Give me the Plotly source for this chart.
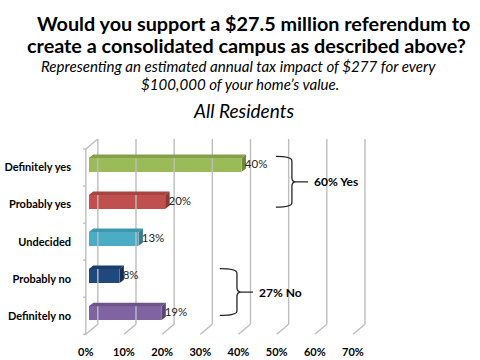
import plotly.graph_objects as go

# ---- data ----
categories = ["Definitely yes", "Probably yes", "Undecided", "Probably no", "Definitely no"]
values = [40, 20, 13, 8, 19]
value_labels = ["40%", "20%", "13%", "8%", "19%"]
front_colors = ["#9BBB59", "#C0504D", "#4BACC6", "#1F497D", "#8064A2"]
top_colors = ["#84A04A", "#A84340", "#3D97AF", "#1A3E6B", "#6D558C"]
side_colors = ["#6E8A3A", "#8E3734", "#317F94", "#142F52", "#5A4674"]
x_ticks = [0, 10, 20, 30, 40, 50, 60, 70]
x_tick_labels = ["0%", "10%", "20%", "30%", "40%", "50%", "60%", "70%"]
groups = [
    {"label": "60% Yes", "cats": ["Definitely yes", "Probably yes"]},
    {"label": "27% No", "cats": ["Probably no", "Definitely no"]},
]

# ---- geometry (layout constants, pixels) ----
W, H = 480, 360
PXX = 3.814     # px per percent
PXY = 37.0      # px per category band
X0PX, Y0PX = 86, 334
PLOT_R_PX, PLOT_T_PX = 370, 128
X_MIN, Y_MIN = -1.0, -0.1

margin_l = X0PX + X_MIN * PXX
margin_b = H - (Y0PX - Y_MIN * PXY)
x_max = (PLOT_R_PX - X0PX) / PXX
y_max = (Y0PX - PLOT_T_PX) / PXY

n = len(categories)
WALL_DX = 12 / PXX      # back wall offset
WALL_DY = 10 / PXY
BAR_X0 = 3 / PXX        # bar depth position
BAR_DDX = 4.5 / PXX     # bar depth
BAR_DDY = 3.5 / PXY
BAR_W = 0.38
BAR_OFF = 0.07

# category centres (top category first)
centres = [n - 1 - i + 0.5 for i in range(n)]
bar_y = [c + BAR_OFF for c in centres]

fig = go.Figure()

# ---- walls and gridlines ----
gx, gy = [], []
for t in x_ticks:
    gx += [t, t + WALL_DX, None]
    gy += [0, WALL_DY, None]
    gx += [t + WALL_DX, t + WALL_DX, None]
    gy += [WALL_DY, n + WALL_DY, None]
gx += [0, 0, None, 0, WALL_DX, None]
gy += [0, n, None, n, n + WALL_DY, None]
for k in range(n + 1):
    gx += [-0.7, 0, None]
    gy += [k, k, None]
fig.add_trace(go.Scatter(x=gx, y=gy, mode="lines",
                         line=dict(color="#BDBDBD", width=1.4),
                         hoverinfo="skip", showlegend=False))

# ---- bars: front faces ----
fig.add_trace(go.Bar(orientation="h", x=values, y=bar_y, base=BAR_X0,
                     width=BAR_W, marker=dict(color=front_colors, line=dict(width=0)),
                     showlegend=False, hoverinfo="skip"))

# ---- bars: top and side faces ----
for v, yc, ct, cs in zip(values, bar_y, top_colors, side_colors):
    yb, yt = yc - BAR_W / 2, yc + BAR_W / 2
    xe = BAR_X0 + v
    fig.add_trace(go.Scatter(
        x=[BAR_X0, xe, xe + BAR_DDX, BAR_X0 + BAR_DDX, BAR_X0],
        y=[yt, yt, yt + BAR_DDY, yt + BAR_DDY, yt],
        fill="toself", fillcolor=ct, mode="lines", line=dict(width=0, color=ct),
        hoverinfo="skip", showlegend=False))
    fig.add_trace(go.Scatter(
        x=[xe, xe + BAR_DDX, xe + BAR_DDX, xe, xe],
        y=[yb, yb + BAR_DDY, yt + BAR_DDY, yt, yb],
        fill="toself", fillcolor=cs, mode="lines", line=dict(width=0, color=cs),
        hoverinfo="skip", showlegend=False))

# ---- value labels ----
fig.add_trace(go.Scatter(
    x=[BAR_X0 + v + BAR_DDX - 0.3 for v in values], y=bar_y, mode="text",
    text=value_labels, textposition="middle right",
    textfont=dict(family="Lato", size=11.5, color="#262626"),
    hoverinfo="skip", showlegend=False, cliponaxis=False))

# ---- braces ----
brace_geo = [
    {"xl": 49.8, "xv": 54.0, "xt": 58.2, "top": 0.30, "bot": 0.07},
    {"xl": 35.1, "xv": 39.6, "xt": 43.8, "top": 0.27, "bot": -0.01},
]
shapes = []
annotations = []
for g, bg in zip(groups, brace_geo):
    idx = [categories.index(c) for c in g["cats"]]
    ys = [centres[i] for i in idx]
    yt = max(ys) + bg["top"]
    yb = min(ys) - bg["bot"]
    ym = (yt + yb) / 2
    xl, xv, xt = bg["xl"], bg["xv"], bg["xt"]
    e = 0.12
    ex = 1.0
    path = (f"M {xl},{yt} Q {xv},{yt} {xv},{yt - e} "
            f"L {xv},{ym + e} Q {xv},{ym} {xv + ex},{ym} L {xt},{ym} "
            f"M {xv + ex},{ym} Q {xv},{ym} {xv},{ym - e} "
            f"L {xv},{yb + e} Q {xv},{yb} {xl},{yb}")
    shapes.append(dict(type="path", path=path, xref="x", yref="y",
                       line=dict(color="#262626", width=1.3)))
    annotations.append(dict(x=xt + 1.0, y=ym, xref="x", yref="y", text=f"<b>{g['label']}</b>",
                            showarrow=False, xanchor="left", yanchor="middle",
                            font=dict(family="Lato", size=12, color="#000000")))

# ---- titles ----
def py(p):
    return (Y0PX - Y_MIN * PXY - p) / (Y0PX - Y_MIN * PXY - PLOT_T_PX)

def px(p):
    return (p - margin_l) / (PLOT_R_PX - margin_l)

title_lines = [
    ("<b>Would you support a $27.5 million referendum to</b>", 254, 23, 19.8),
    ("<b>create a consolidated campus as described above?</b>", 247, 45.5, 19.8),
    ("<i>Representing an estimated annual tax impact of $277 for every</i>", 239, 66.5, 15.1),
    ("<i>$100,000 of your home\u2019s value.</i>", 240, 84, 15.1),
    ("<i>All Residents</i>", 244, 111, 19),
]
for txt, xpx, ypx, fs in title_lines:
    annotations.append(dict(x=px(xpx), y=py(ypx), xref="paper", yref="paper", text=txt,
                            showarrow=False, xanchor="center", yanchor="middle",
                            font=dict(family="Lato", size=fs, color="#000000")))

fig.update_layout(
    width=W, height=H,
    margin=dict(l=margin_l, r=W - PLOT_R_PX, t=PLOT_T_PX, b=margin_b, pad=0),
    paper_bgcolor="white", plot_bgcolor="white",
    xaxis=dict(range=[X_MIN, x_max], tickvals=x_ticks, ticktext=x_tick_labels,
               showgrid=False, zeroline=False, showline=False, ticks="",
               ticklabelstandoff=6, automargin=False,
               tickfont=dict(family="Lato", size=11, color="#000000", weight="bold")),
    yaxis=dict(range=[Y_MIN, y_max], tickvals=centres, ticktext=categories,
               showgrid=False, zeroline=False, showline=False, ticks="",
               ticklabelstandoff=10, automargin=False,
               tickfont=dict(family="Lato", size=11, color="#000000", weight="bold")),
    shapes=shapes, annotations=annotations, bargap=0,
)

fig.write_html(
    "out.html",
    config={"displayModeBar": False},
    post_script="document.body.style.margin='0';document.body.style.padding='0';"
                "document.documentElement.style.overflow='hidden';",
)
